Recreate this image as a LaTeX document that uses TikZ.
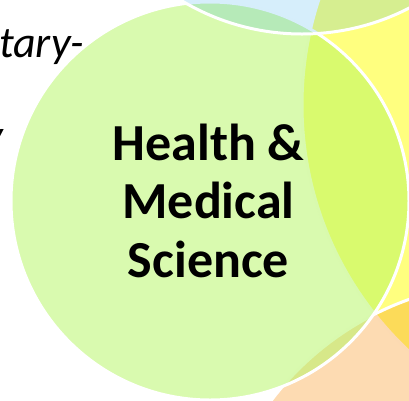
\documentclass[tikz,border=0pt]{standalone}
\usepackage{fontspec}
\setmainfont{Carlito}
\usepackage{tikz}

\definecolor{hmsgreen}{RGB}{179,245,95}
\definecolor{sunyellow}{RGB}{255,255,0}
\definecolor{peach}{RGB}{248,135,0}
\definecolor{skyblue}{RGB}{0,150,230}

\begin{document}
\begin{tikzpicture}[x=1pt,y=-1pt,
  every node/.style={inner sep=0pt, outer sep=0pt},
  bubble/.style={draw=white, line width=3pt},
  sidetext/.style={font=\fontsize{44}{50}\selectfont\itshape}]
\useasboundingbox (0,0) rectangle (409,400);
\begin{scope}
\clip (0,0) rectangle (409,400);
% circles, back to front
\filldraw[bubble, fill=sunyellow, fill opacity=0.5] (639,105) circle[radius=337pt];
\filldraw[bubble, fill=peach, fill opacity=0.3] (510,582) circle[radius=300pt];
\filldraw[bubble, fill=hmsgreen, fill opacity=0.5] (210,201) circle[radius=199pt];
\filldraw[bubble, fill=skyblue, fill opacity=0.16] (302,-200) circle[radius=234pt];

\node[sidetext, anchor=base west] (mil) at (-1,57) {tary-};
\node[sidetext, anchor=base east] (frag) at (3,150) {y};
\end{scope}

\node[font=\fontsize{52}{58.5}\selectfont\bfseries, align=center] (hms) at (208.5,200.5) {Health \&\\Medical\\Science};
\end{tikzpicture}
\end{document}
